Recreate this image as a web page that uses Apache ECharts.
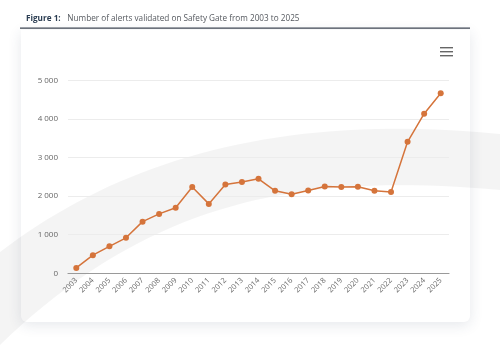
<!DOCTYPE html>
<html>
<head>
<meta charset="utf-8">
<style>
  html, body { margin: 0; padding: 0; background: #ffffff; }
  #chart { width: 500px; height: 349px; }
</style>
<script src="https://cdn.jsdelivr.net/npm/echarts@6/dist/echarts.min.js"></script>
</head>
<body>
<div id="chart"></div>
<script>
// Safety Gate alerts per year
const years = ['2003','2004','2005','2006','2007','2008','2009','2010','2011','2012','2013','2014',
               '2015','2016','2017','2018','2019','2020','2021','2022','2023','2024','2025'];
const alerts = [140, 470, 700, 920, 1340, 1540, 1700, 2240, 1800, 2300, 2370, 2450,
                2140, 2050, 2150, 2250, 2240, 2245, 2140, 2110, 3410, 4140, 4670];
const yTicks = { min: 0, max: 5000, interval: 1000 };

const titleBold = 'Figure 1:';
const titleText = 'Number of alerts validated on Safety Gate from 2003 to 2025';

const chart = echarts.init(document.getElementById('chart'), null, { renderer: 'canvas' });

const fontFamily = '"Open Sans", "Noto Sans", sans-serif';

// sample a cubic bezier into polygon points
function bezier(p0, p1, p2, p3, n) {
  const pts = [];
  for (let i = 0; i <= n; i++) {
    const t = i / n, u = 1 - t;
    pts.push([
      u*u*u*p0[0] + 3*u*u*t*p1[0] + 3*u*t*t*p2[0] + t*t*t*p3[0],
      u*u*u*p0[1] + 3*u*u*t*p1[1] + 3*u*t*t*p2[1] + t*t*t*p3[1]
    ]);
  }
  return pts;
}
const swoosh = bezier([0, 252], [120, 160], [280, 112], [500, 134], 40)
  .concat(bezier([500, 190], [300, 172], [150, 200], [0, 345], 40));

chart.setOption({
  backgroundColor: '#ffffff',
  animation: false,
  graphic: [
    // card with soft shadow
    {
      type: 'rect', z: -20,
      shape: { x: 21, y: 30, width: 449, height: 292, r: [0, 0, 6, 6] },
      style: { fill: '#ffffff', shadowBlur: 14, shadowColor: 'rgba(40,60,90,0.12)', shadowOffsetY: 3 }
    },
    // decorative swoosh band
    {
      type: 'polygon', z: -15,
      shape: { points: swoosh },
      style: { fill: 'rgba(0,0,0,0.045)' }
    },
    // title
    {
      type: 'text', z: 5, x: 26, y: 13,
      style: {
        text: '{b|' + titleBold + '}  {r|' + titleText + '}',
        rich: {
          b: { fontFamily: fontFamily, fontSize: 8.2, fontWeight: 'bold', fill: '#2b3d52' },
          r: { fontFamily: fontFamily, fontSize: 8.2, fill: '#55595f' }
        }
      }
    },
    // rule under the title
    {
      type: 'rect', z: 5,
      shape: { x: 20, y: 27.5, width: 450, height: 1.3 },
      style: { fill: '#3c4452' }
    },
    // menu icon
    { type: 'rect', z: 5, shape: { x: 440, y: 47, width: 13, height: 1.4 }, style: { fill: '#666' } },
    { type: 'rect', z: 5, shape: { x: 440, y: 51, width: 13, height: 1.4 }, style: { fill: '#666' } },
    { type: 'rect', z: 5, shape: { x: 440, y: 55, width: 13, height: 1.4 }, style: { fill: '#666' } }
  ],
  grid: { left: 68, right: 51, top: 80.5, bottom: 75.7, containLabel: false },
  xAxis: {
    type: 'category',
    data: years,
    boundaryGap: true,
    axisLine: { lineStyle: { color: '#9a9a9a', width: 1.2 } },
    axisTick: { show: false },
    axisLabel: {
      rotate: 45, interval: 0, color: '#666', fontSize: 7.5, fontFamily: fontFamily, margin: 6
    }
  },
  yAxis: {
    type: 'value',
    min: yTicks.min, max: yTicks.max, interval: yTicks.interval,
    axisLine: { show: false },
    axisTick: { show: false },
    splitLine: { lineStyle: { color: '#ececec', width: 1 } },
    axisLabel: {
      color: '#666', fontSize: 8, fontFamily: fontFamily, margin: 10,
      formatter: v => v >= 1000 ? Math.floor(v / 1000) + ' ' + String(v % 1000).padStart(3, '0') : String(v)
    }
  },
  series: [{
    type: 'line',
    data: alerts,
    symbol: 'circle',
    symbolSize: 6,
    lineStyle: { color: '#d5743b', width: 1.5 },
    itemStyle: { color: '#d5743b' }
  }]
});
</script>
</body>
</html>
